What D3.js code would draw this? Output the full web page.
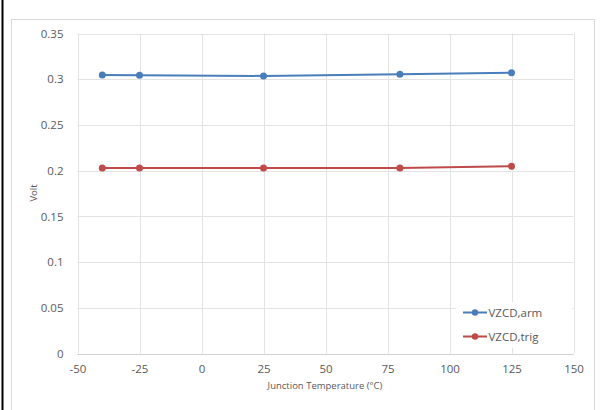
<!DOCTYPE html>
<html><head><meta charset="utf-8">
<script src="https://cdn.jsdelivr.net/npm/d3@7"></script>
<style>html,body{margin:0;padding:0;background:#fff;}svg{display:block;}</style>
</head><body>
<script>
const temps = [-40, -25, 25, 80, 125];
const armValues = [0.3046, 0.3044, 0.3036, 0.3055, 0.3072];
const trigValues = [0.2030, 0.2030, 0.2029, 0.2029, 0.2048];
const seriesNames = ["VZCD,arm", "VZCD,trig"];
const seriesColors = ["#4a7ebb", "#be4b48"];
const xTicks = [-50, -25, 0, 25, 50, 75, 100, 125, 150];
const yTicks = [0, 0.05, 0.1, 0.15, 0.2, 0.25, 0.3, 0.35];
const xTitle = "Junction Temperature (°C)";
const yTitle = "Volt";

const W = 605, H = 410;
const svg = d3.select("body").append("svg").attr("width", W).attr("height", H);
const font = "'Open Sans', 'Noto Sans', sans-serif";

// outer decorations
svg.append("rect").attr("x", 11.5).attr("y", 19.5).attr("width", 583).attr("height", 400)
  .attr("fill", "#fff").attr("stroke", "#d9d9d9").attr("stroke-width", 1);
svg.append("line").attr("x1", 2.5).attr("x2", 2.5).attr("y1", 0).attr("y2", H)
  .attr("stroke", "#000").attr("stroke-width", 2);

const x = d3.scaleLinear().domain([-50, 150]).range([77.5, 573.5]);
const y = d3.scaleLinear().domain([0, 0.35]).range([353.5, 33.5]);

// gridlines
const g = svg.append("g");
g.selectAll(".vg").data(xTicks).join("line")
  .attr("x1", d => Math.round(x(d)) + 0.5).attr("x2", d => Math.round(x(d)) + 0.5)
  .attr("y1", y(0.35)).attr("y2", y(0)).attr("stroke", "#e3e3e3");
g.selectAll(".hg").data(yTicks).join("line")
  .attr("x1", x(-50)).attr("x2", x(150))
  .attr("y1", d => Math.round(y(d)) + 0.5).attr("y2", d => Math.round(y(d)) + 0.5).attr("stroke", "#e3e3e3");
g.append("line").attr("x1", x(-50)).attr("x2", x(150)).attr("y1", Math.round(y(0)) + 0.5).attr("y2", Math.round(y(0)) + 0.5).attr("stroke", "#d0d0d0");

// axes (labels only)
const xAxis = svg.append("g").attr("transform", `translate(0,${y(0) + 6})`)
  .call(d3.axisBottom(x).tickValues(xTicks).tickSize(0).tickFormat(d => String(d)));
xAxis.select(".domain").remove();
xAxis.selectAll("text").attr("font-family", font).attr("font-size", 11.5).attr("fill", "#595959").attr("dy", "0.9em");

const yAxis = svg.append("g").attr("transform", `translate(${x(-50) - 11},0)`)
  .call(d3.axisLeft(y).tickValues(yTicks).tickSize(0).tickFormat(d => d === 0 ? "0" : String(+d.toFixed(2))));
yAxis.select(".domain").remove();
yAxis.selectAll("text").attr("font-family", font).attr("font-size", 11.5).attr("fill", "#595959");

svg.append("text").attr("x", 325).attr("y", 389).attr("text-anchor", "middle")
  .attr("font-family", font).attr("font-size", 9.5).attr("fill", "#595959").text(xTitle);
svg.append("text").attr("transform", "translate(37,193) rotate(-90)").attr("text-anchor", "middle")
  .attr("font-family", font).attr("font-size", 9.5).attr("fill", "#595959").text(yTitle);

// series
const allSeries = [armValues, trigValues];
const line = d3.line().x((d, i) => x(temps[i])).y(d => y(d));
allSeries.forEach((vals, si) => {
  svg.append("path").datum(vals).attr("d", line).attr("fill", "none")
    .attr("stroke", seriesColors[si]).attr("stroke-width", 2);
  svg.selectAll(".m" + si).data(vals).join("circle")
    .attr("cx", (d, i) => x(temps[i])).attr("cy", d => y(d)).attr("r", 3.5)
    .attr("fill", seriesColors[si]);
});

// legend
svg.append("rect").attr("x", 456).attr("y", 302).attr("width", 116).attr("height", 46).attr("fill", "#fff");
seriesNames.forEach((name, i) => {
  const ly = 312.5 + i * 24;
  svg.append("line").attr("x1", 463).attr("x2", 487).attr("y1", ly).attr("y2", ly)
    .attr("stroke", seriesColors[i]).attr("stroke-width", 2);
  svg.append("circle").attr("cx", 475).attr("cy", ly).attr("r", 3.2).attr("fill", seriesColors[i]);
  svg.append("text").attr("x", 488.5).attr("y", ly).attr("dy", "0.35em")
    .attr("font-family", font).attr("font-size", 11.5).attr("fill", "#595959").text(name);
});
</script>
</body></html>
